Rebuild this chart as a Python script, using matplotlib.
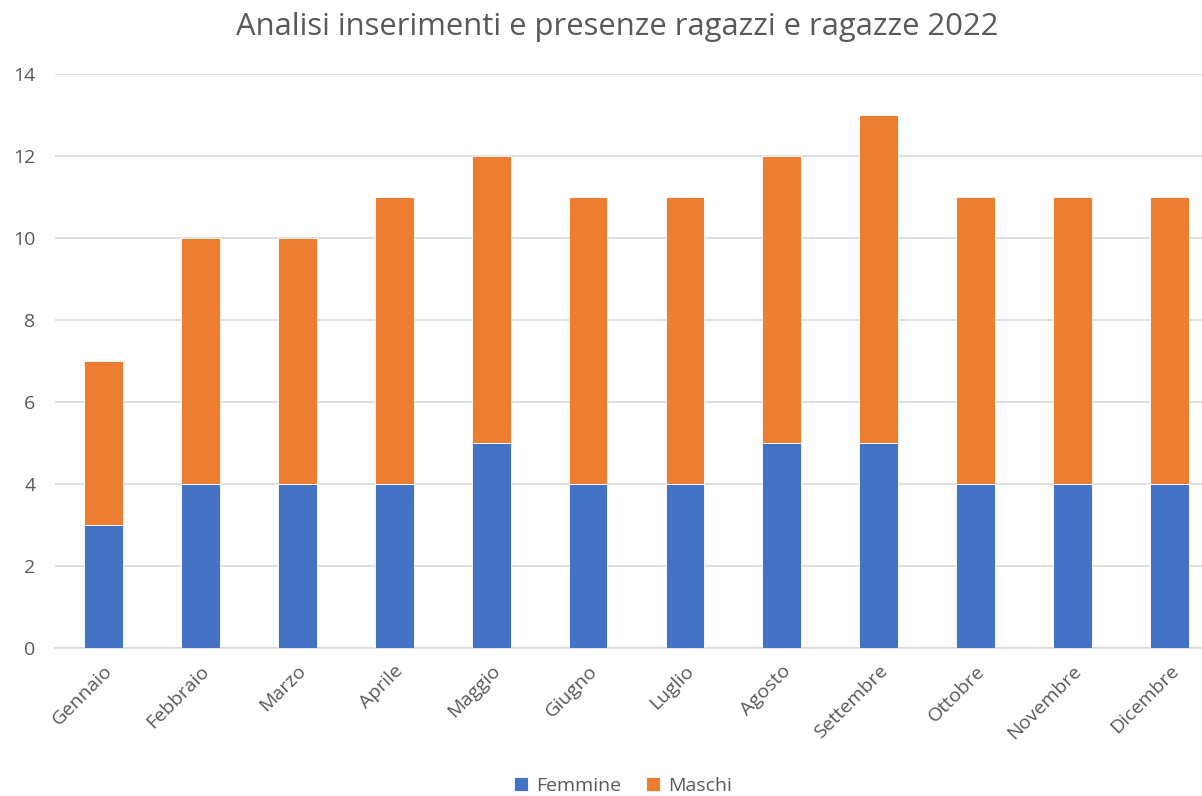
import matplotlib
matplotlib.use("Agg")
import matplotlib.pyplot as plt
import numpy as np

months = ["Gennaio", "Febbraio", "Marzo", "Aprile", "Maggio", "Giugno",
          "Luglio", "Agosto", "Settembre", "Ottobre", "Novembre", "Dicembre"]
femmine = [3, 4, 4, 4, 5, 4, 4, 5, 5, 4, 4, 4]
maschi = [4, 6, 6, 7, 7, 7, 7, 7, 8, 7, 7, 7]
yticks = [0, 2, 4, 6, 8, 10, 12, 14]

plt.rcParams['font.family'] = ['Open Sans', 'DejaVu Sans']

fig = plt.figure(figsize=(12.02, 7.96), dpi=100)
ax = fig.add_axes([55/1202, 148/796, 1163/1202, 574/796])

x = np.arange(len(months))
blue = "#4472C4"
orange = "#ED7D31"
ax.bar(x, femmine, width=0.40, color=blue, label="Femmine", zorder=3,
       edgecolor="white", linewidth=0.6)
ax.bar(x, maschi, width=0.40, bottom=femmine, color=orange, label="Maschi", zorder=3,
       edgecolor="white", linewidth=0.6)

ax.set_xlim(-0.5, 11.5)
ax.set_ylim(0, 14)
ax.set_yticks(yticks)
ax.set_yticklabels([str(v) for v in yticks], fontsize=14, color="#595959")
ax.set_xticks(x)
ax.set_xticklabels(months, rotation=45, ha="right", rotation_mode="anchor",
                   fontsize=14, color="#595959")
ax.tick_params(axis="y", length=0, pad=14)
ax.tick_params(axis="x", length=0, pad=10)
ax.grid(axis="y", color="#D9D9D9", linewidth=1.2, zorder=0)
for s in ["top", "right", "left"]:
    ax.spines[s].set_visible(False)
ax.spines["bottom"].set_color("#D9D9D9")
ax.spines["bottom"].set_linewidth(1.2)

fig.text(617/1202, 1 - 27/796, "Analisi inserimenti e presenze ragazzi e ragazze 2022",
         ha="center", va="center", fontsize=22.3, color="#595959")

fig.legend(loc="center", bbox_to_anchor=(623/1202, 1 - 786/796), ncol=2, frameon=False,
           fontsize=14, handlelength=0.7, handleheight=0.7, handletextpad=0.4,
           columnspacing=1.3, labelcolor="#595959")

fig.savefig("out.png", dpi=100)
